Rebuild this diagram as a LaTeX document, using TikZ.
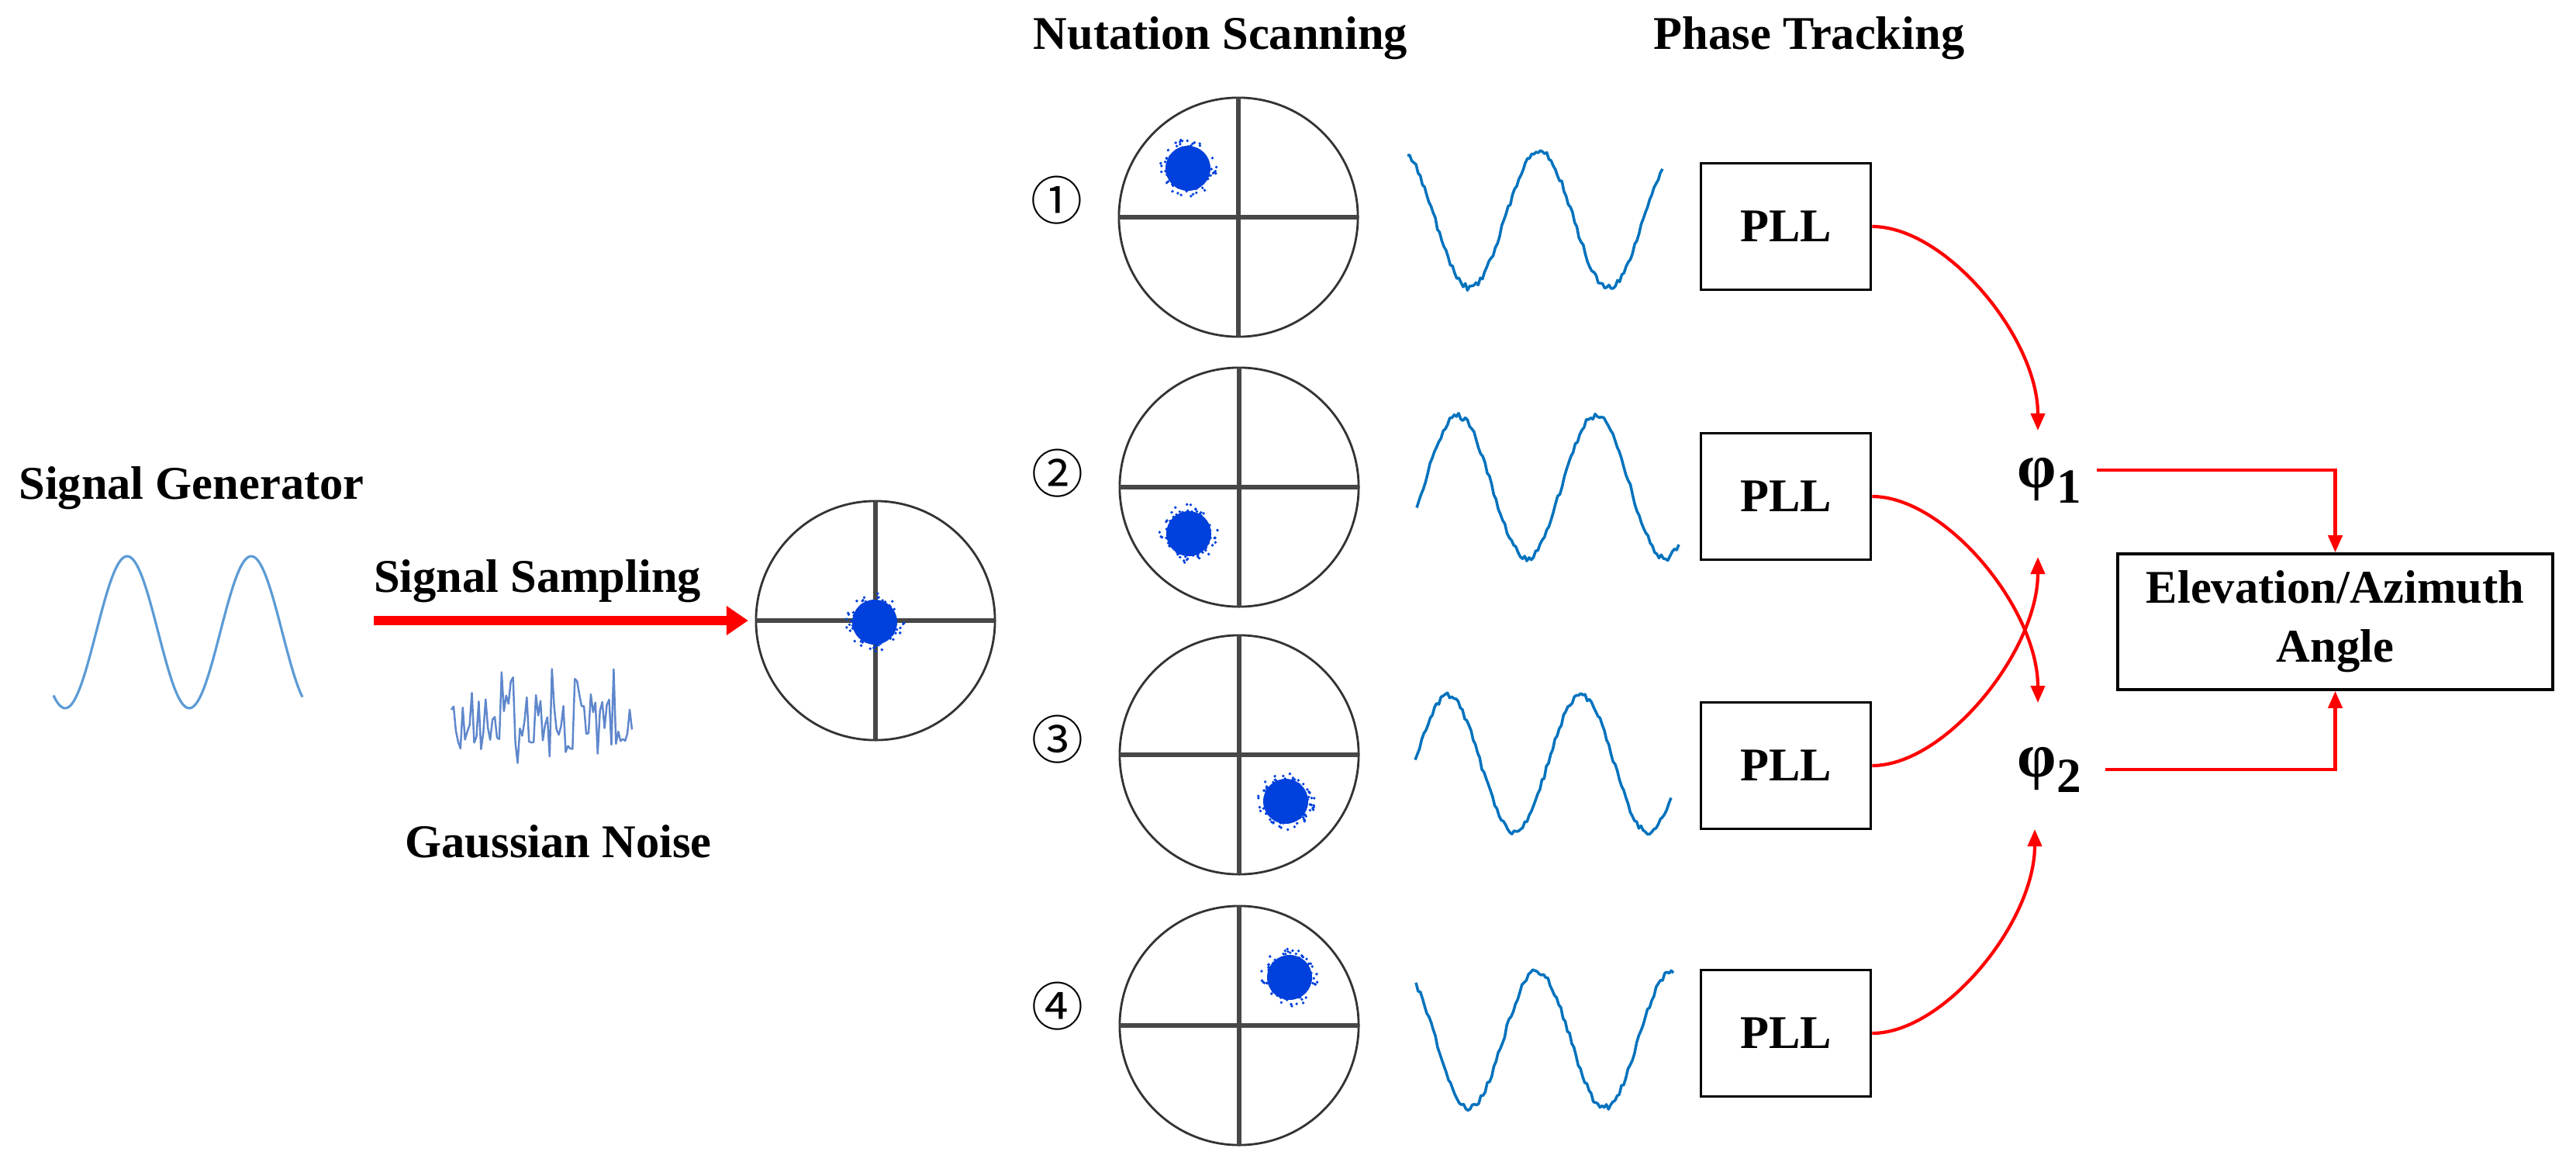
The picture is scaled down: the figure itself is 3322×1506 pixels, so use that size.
\documentclass[tikz,border=0pt]{standalone}
\usepackage{fontspec}
\setmainfont{Liberation Serif}
\newfontfamily\cjkfont{Noto Sans CJK SC}
\usetikzlibrary{arrows.meta,calc}
\definecolor{gensine}{RGB}{91,155,213}
\definecolor{noisecol}{RGB}{68,114,196}
\definecolor{wavecol}{RGB}{0,114,189}
\definecolor{blobcol}{RGB}{0,64,220}
\newcommand\myblob[1]{%
  \fill[blobcol] #1 circle[radius=29];
  \foreach \k in {1,...,90}{\fill[blobcol] #1 ++({360*rnd}:{20+18*rnd}) circle[radius=1.9];}%
}
\begin{document}
\begin{tikzpicture}[x=0.01cm, y=-0.01cm,
  lbl/.style={font=\fontsize{17.2}{21}\selectfont\bfseries, inner sep=0},
  target/.style={circle, draw=black!80, line width=0.8pt, minimum size=3.08cm, inner sep=0, outer sep=0},
  cross/.style={line width=1.5pt, draw=black!72},
  pllbox/.style={draw, line width=1pt, minimum width=2.19cm, minimum height=1.63cm, font=\fontsize{17.2}{21}\selectfont\bfseries, inner sep=0},
  anglebox/.style={draw, line width=1pt, minimum width=5.61cm, minimum height=1.75cm, font=\fontsize{17.2}{21.6}\selectfont\bfseries, align=center, inner sep=0},
  redarr/.style={draw=red, line width=1.2pt, -{Triangle[length=0.22cm,width=0.18cm]}},
  wave/.style={draw=wavecol, line width=1pt, line join=round},
  num/.style={font=\cjkfont\fontsize{19}{19}\selectfont, inner sep=0},
  phi/.style={inner sep=0, font=\bfseries}
]
\fill[white] (0,0) rectangle (3322,1506);
\useasboundingbox (0,0) rectangle (3322,1506);
\pgfmathsetseed{11}

% headers
\node[lbl, anchor=base] (hnut) at (1574,63) {Nutation Scanning};
\node[lbl, anchor=base] (hphase) at (2333,63) {Phase Tracking};

% left part
\node[lbl, anchor=base] (lgen) at (247,643) {Signal Generator};
\draw[gensine, line width=0.9pt] plot[domain=69:390, samples=120, smooth] (\x,{815-98*cos((\x-164)/160*360)});
\node[lbl, anchor=base] (lsamp) at (693,763) {Signal Sampling};
\draw[noisecol, line width=0.7pt, opacity=0.85, line join=round] plot[domain=582:815, samples=80] (\x,{928+(25+50*rnd)*rand});
\node[lbl, anchor=base] (lnoise) at (720,1105) {Gaussian Noise};

% centre target
\node[target] (c0) at (1129,800) {};
\draw[cross] (c0.north) -- (c0.south) (c0.west) -- (c0.east);
\myblob{(1128,802)}
\coordinate (sstart) at (482,800);
\draw[red, line width=3.6pt, shorten >=0.1cm, -{Triangle[length=0.28cm,width=0.36cm]}] (sstart) -- (c0.west);

% nutation targets
\node[target] (c1) at (1597,280) {};
\node[target] (c2) at (1598,628) {};
\node[target] (c3) at (1598,973) {};
\node[target] (c4) at (1598,1322) {};
\foreach \c in {c1,c2,c3,c4}{\draw[cross] (\c.north) -- (\c.south) (\c.west) -- (\c.east);}
\myblob{(1532,217)}
\myblob{(1533,688)}
\myblob{(1658,1033)}
\myblob{(1663,1260)}
\node[num] (n1) at (1363,258) {①};
\node[num] (n2) at (1364,610) {②};
\node[num] (n3) at (1364,953) {③};
\node[num] (n4) at (1364,1297) {④};

% waveforms
\draw[wave] plot[domain=1815:2144, samples=120] (\x,{283-88*cos((\x-1985)/179*360)+4*rand});
\draw[wave] plot[domain=1827:2165, samples=120] (\x,{628-92*cos((\x-1880)/178*360)+4*rand});
\draw[wave] plot[domain=1825:2155, samples=120] (\x,{985-88*cos((\x-1867)/172*360)+4*rand});
\draw[wave] plot[domain=1826:2158, samples=120] (\x,{1340-88*cos((\x-1982)/174*360)+4*rand});

% PLL boxes
\node[pllbox] (p1) at (2303,292) {PLL};
\node[pllbox] (p2) at (2303,640) {PLL};
\node[pllbox] (p3) at (2303,987) {PLL};
\node[pllbox] (p4) at (2303,1332) {PLL};

% phases
\node[phi] (f1) at (2643,619) {{\fontsize{23}{24}\selectfont φ}\raisebox{-0.2cm}{\fontsize{18}{20}\selectfont 1}};
\node[phi] (f2) at (2643,992) {{\fontsize{23}{24}\selectfont φ}\raisebox{-0.2cm}{\fontsize{18}{20}\selectfont 2}};
\coordinate (t1a) at (2628,555);
\coordinate (t1b) at (2628,718);
\coordinate (t2a) at (2628,906);
\coordinate (t2b) at (2624,1069);

\draw[redarr] (p1.east) .. controls (2509,292) and (2628,435) .. (t1a);
\draw[redarr] (p2.east) .. controls (2509,640) and (2628,785) .. (t2a);
\draw[redarr] (p3.east) .. controls (2509,987) and (2628,839) .. (t1b);
\draw[redarr] (p4.east) .. controls (2507,1332) and (2624,1189) .. (t2b);

% output box
\node[anglebox] (el) at (3011.5,801.5) {Elevation/Azimuth\\Angle};
\draw[redarr] ([xshift=0.19cm,yshift=0.13cm]f1.east) -| (el.north);
\draw[redarr] ([xshift=0.3cm]f2.east) -| (el.south);
\end{tikzpicture}
\end{document}
